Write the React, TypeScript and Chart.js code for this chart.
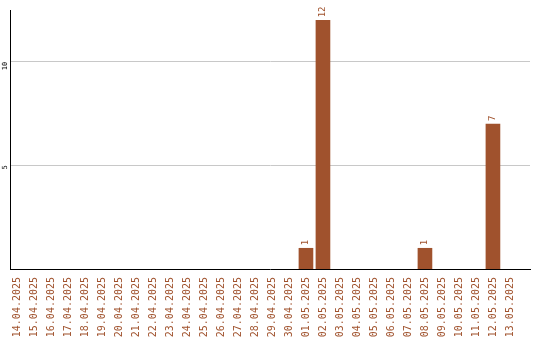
import React, { useEffect, useRef } from "react";
import { Chart, registerables } from "chart.js";

Chart.register(...registerables);

// Daily counts, 14.04.2025 – 13.05.2025
const categories: string[] = [
  "14.04.2025", "15.04.2025", "16.04.2025", "17.04.2025", "18.04.2025",
  "19.04.2025", "20.04.2025", "21.04.2025", "22.04.2025", "23.04.2025",
  "24.04.2025", "25.04.2025", "26.04.2025", "27.04.2025", "28.04.2025",
  "29.04.2025", "30.04.2025", "01.05.2025", "02.05.2025", "03.05.2025",
  "04.05.2025", "05.05.2025", "06.05.2025", "07.05.2025", "08.05.2025",
  "09.05.2025", "10.05.2025", "11.05.2025", "12.05.2025", "13.05.2025",
];

const counts: number[] = [
  0, 0, 0, 0, 0, 0, 0, 0, 0, 0,
  0, 0, 0, 0, 0, 0, 0, 1, 12, 0,
  0, 0, 0, 0, 1, 0, 0, 0, 7, 0,
];

const yTicks: number[] = [5, 10];

const BAR = "#a0522d";
const MONO = "'DejaVu Sans Mono', monospace";

// Rotated value labels above each non-zero bar
const valueLabels = {
  id: "valueLabels",
  afterDatasetsDraw(chart: any) {
    const { ctx } = chart;
    const meta = chart.getDatasetMeta(0);
    ctx.save();
    ctx.fillStyle = BAR;
    ctx.font = `9px ${MONO}`;
    ctx.textAlign = "left";
    ctx.textBaseline = "middle";
    meta.data.forEach((bar: any, i: number) => {
      const v = counts[i];
      if (!v) return;
      ctx.save();
      ctx.translate(bar.x, bar.y - 3);
      ctx.rotate(-Math.PI / 2);
      ctx.fillText(String(v), 0, 0);
      ctx.restore();
    });
    ctx.restore();
  },
};

export default function App() {
  const ref = useRef<HTMLCanvasElement>(null);

  useEffect(() => {
    document.body.style.margin = "0";
    const canvas = ref.current;
    if (!canvas) return;
    const chart = new Chart(canvas, {
      type: "bar",
      data: {
        datasets: [
          {
            // empty days draw no bar at all
            data: categories.map((_, i) => ({ x: i, y: counts[i] || null })),
            backgroundColor: BAR,
            borderWidth: 0,
            barThickness: 14,
          },
        ],
      },
      options: {
        animation: false,
        responsive: false,
        devicePixelRatio: 1,
        layout: { padding: { top: 10, right: 10, left: 0, bottom: 0 } },
        plugins: {
          legend: { display: false },
          tooltip: { enabled: false },
        },
        scales: {
          x: {
            type: "linear",
            offset: false,
            min: -0.41,
            max: 30.18,
            grid: { display: false, offset: false, drawTicks: false },
            border: { display: true, color: "#000", width: 1 },
            afterFit(scale: any) {
              scale.height = 71;
              scale.paddingLeft = 0;
              scale.paddingRight = 0;
            },
            ticks: {
              stepSize: 1,
              includeBounds: false,
              autoSkip: false,
              minRotation: 90,
              maxRotation: 90,
              padding: 8,
              color: BAR,
              font: { family: MONO, size: 10 },
              callback: (v: any) => categories[v as number] ?? "",
            },
          },
          y: {
            min: 0,
            max: 12.5,
            afterFit(scale: any) {
              scale.width = 10;
              scale.paddingTop = 0;
              scale.paddingBottom = 0;
            },
            afterBuildTicks(scale: any) {
              scale.ticks = yTicks.map((v) => ({ value: v }));
            },
            grid: { color: "#c8c8c8", drawTicks: false },
            border: { display: true, color: "#000", width: 1 },
            ticks: {
              minRotation: 90,
              maxRotation: 90,
              padding: 5,
              color: "#000",
              font: { family: MONO, size: 7 },
            },
          },
        },
      },
      plugins: [valueLabels],
    });
    return () => chart.destroy();
  }, []);

  return (
    <div style={{ width: 540, height: 340 }}>
      <canvas ref={ref} width={540} height={340} />
    </div>
  );
}
